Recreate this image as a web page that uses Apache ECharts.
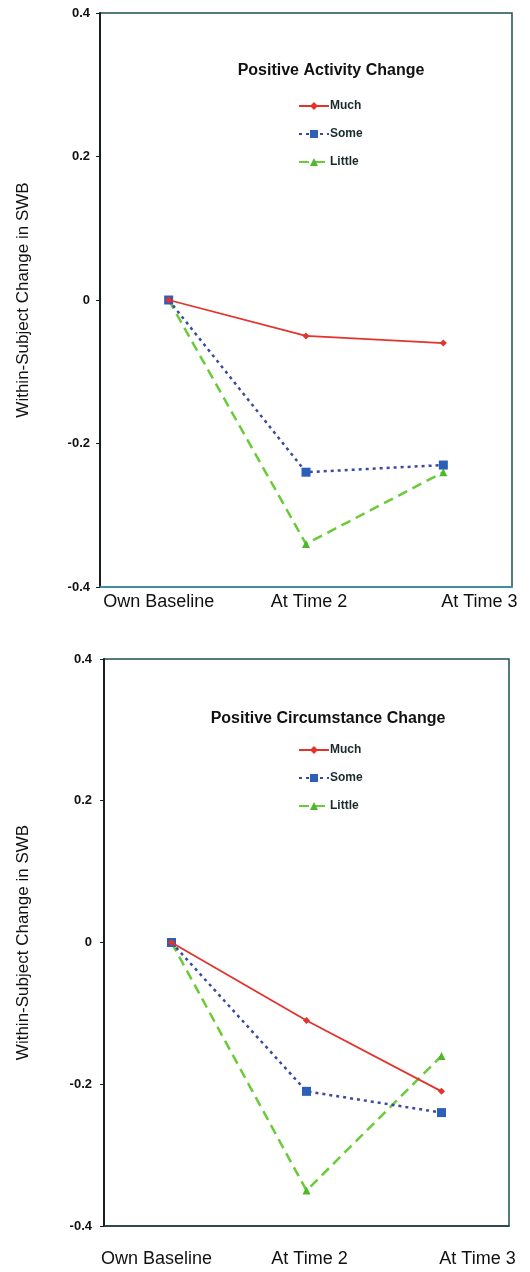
<!DOCTYPE html>
<html>
<head>
<meta charset="utf-8">
<script src="https://cdn.jsdelivr.net/npm/echarts@6/dist/echarts.min.js"></script>
<style>
	html, body { margin: 0; padding: 0; background: #fff; }
	.panel { width: 530px; height: 636px; }
</style>
</head>
<body>
<div id="chartTop" class="panel"></div>
<div id="chartBottom" class="panel"></div>
<script>
	const categories = ['Own Baseline', 'At Time 2', 'At Time 3'];
	const seriesNames = ['Much', 'Some', 'Little'];
	const yTicks = [-0.4, -0.2, 0, 0.2, 0.4];

	// Positive Activity Change
	const activityMuch = [0, -0.05, -0.06];
	const activitySome = [0, -0.24, -0.23];
	const activityLittle = [0, -0.34, -0.24];

	// Positive Circumstance Change
	const circMuch = [0, -0.11, -0.21];
	const circSome = [0, -0.21, -0.24];
	const circLittle = [0, -0.35, -0.16];

	const FONT = 'Liberation Sans, Arial, sans-serif';

	function buildOption(cfg) {
		return {
			animation: false,
			textStyle: { fontFamily: FONT },
			title: {
				text: cfg.title,
				left: cfg.titleX,
				top: cfg.titleY,
				textAlign: 'center',
				textStyle: { fontSize: 16, fontWeight: 'bold', color: '#111', fontFamily: FONT }
			},
			legend: {
				data: seriesNames,
				orient: 'vertical',
				left: 293,
				top: cfg.legendTop,
				itemWidth: 30,
				itemHeight: 10,
				itemGap: 16,
				textStyle: { fontSize: 12, fontWeight: 'bold', color: '#1a2a2a', padding: [0, 0, 0, -4] }
			},
			grid: {
				show: true,
				left: cfg.left,
				right: cfg.right,
				top: cfg.top,
				bottom: cfg.bottom,
				borderColor: '#1f4f50',
				borderWidth: 1.5
			},
			xAxis: {
				type: 'category',
				data: [
					{ value: categories[0], textStyle: { padding: [0, cfg.shiftFirst, 0, 0] } },
					{ value: categories[1], textStyle: { padding: [0, 0, 0, 6] } },
					{ value: categories[2], textStyle: { padding: [0, 0, 0, 72] } }
				],
				boundaryGap: true,
				axisLine: { show: true, onZero: false, lineStyle: { color: cfg.xLineColor, width: 1.5 } },
				axisTick: { show: false },
				axisLabel: { fontSize: 18, color: '#111', margin: cfg.labelMargin, interval: 0 },
				splitLine: { show: false }
			},
			yAxis: {
				type: 'value',
				min: yTicks[0],
				max: yTicks[yTicks.length - 1],
				interval: 0.2,
				name: 'Within-Subject Change in SWB',
				nameLocation: 'middle',
				nameGap: cfg.nameGap,
				nameTextStyle: { fontSize: 17, color: '#111' },
				axisLine: { show: true, lineStyle: { color: '#1a1f1f', width: 2 } },
				axisTick: { show: true, length: 4, lineStyle: { color: '#1a1f1f' } },
				axisLabel: {
					fontSize: 13, fontWeight: 'bold', color: '#111', margin: cfg.yLabelMargin,
					formatter: v => String(Math.round(v * 10) / 10)
				},
				splitLine: { show: false }
			},
			series: [{
				name: 'Much',
				type: 'line',
				data: cfg.much,
				symbol: 'diamond',
				symbolSize: 7,
				itemStyle: { color: '#e3332c' },
				lineStyle: { color: '#e3332c', width: 1.8, type: 'solid' },
				z: 4
			}, {
				name: 'Some',
				type: 'line',
				data: cfg.some,
				symbol: 'rect',
				symbolSize: 9,
				itemStyle: { color: '#2c5fb6' },
				lineStyle: { color: '#3b4a9e', width: 2.5, type: [3, 4] },
				z: 3
			}, {
				name: 'Little',
				type: 'line',
				data: cfg.little,
				symbol: 'triangle',
				symbolSize: 8,
				itemStyle: { color: '#4fb82a' },
				lineStyle: { color: '#6acb38', width: 2.5, type: [10, 6] },
				z: 2
			}]
		};
	}

	const topChart = echarts.init(document.getElementById('chartTop'));
	topChart.setOption(buildOption({
		title: 'Positive Activity Change',
		titleX: 326, titleY: 58,
		legendTop: 95,
		left: 100, right: 18, top: 13, bottom: 49,
		xLineColor: '#3d97ad',
		labelMargin: 6,
		shiftFirst: 20,
		yLabelMargin: 10,
		nameGap: 68,
		much: activityMuch, some: activitySome, little: activityLittle
	}));

	const bottomChart = echarts.init(document.getElementById('chartBottom'));
	bottomChart.setOption(buildOption({
		title: 'Positive Circumstance Change',
		titleX: 323, titleY: 70,
		legendTop: 103,
		left: 104, right: 21, top: 23, bottom: 46,
		xLineColor: '#263a3a',
		labelMargin: 24,
		shiftFirst: 30,
		yLabelMargin: 12,
		nameGap: 72,
		much: circMuch, some: circSome, little: circLittle
	}));

	window.addEventListener('resize', function () {
		topChart.resize();
		bottomChart.resize();
	});
</script>
</body>
</html>
